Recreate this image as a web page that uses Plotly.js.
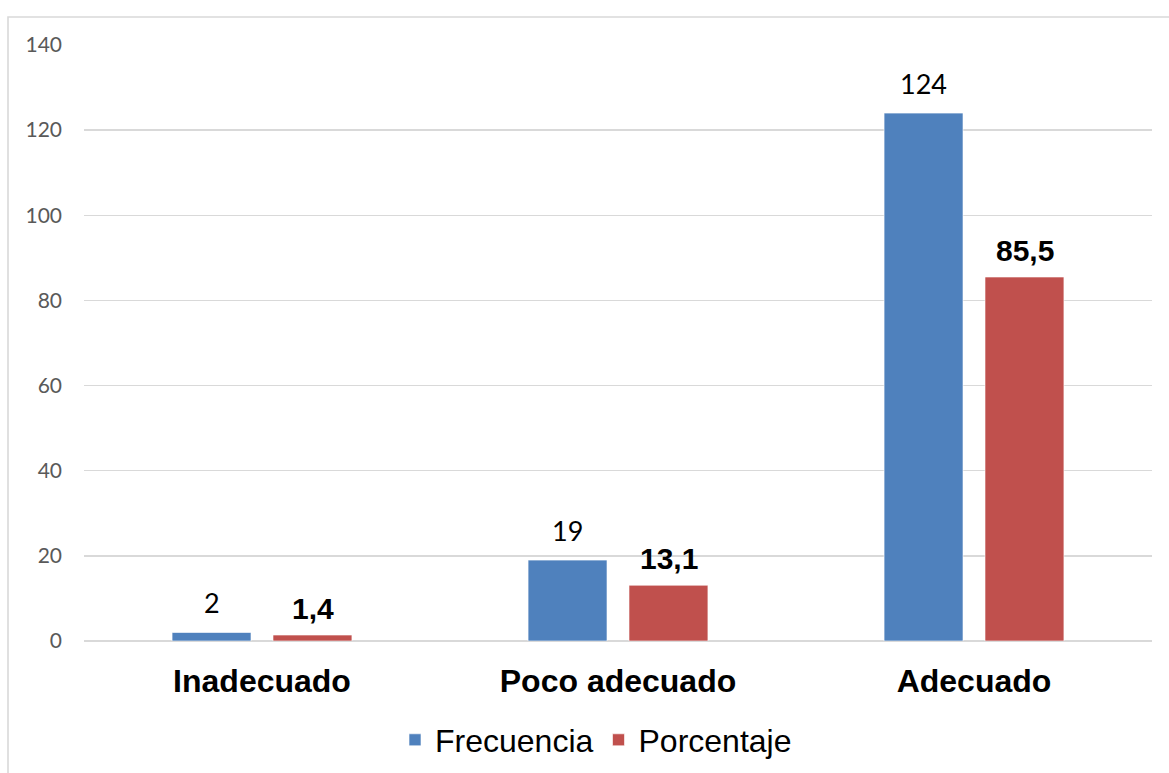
<!DOCTYPE html>
<html>
<head>
<meta charset="utf-8">
<script src="https://cdn.plot.ly/plotly-3.0.1.min.js"></script>
<style>
html,body{margin:0;padding:0;background:#fff;overflow:hidden;}
#chart{width:1169px;height:773px;}
</style>
</head>
<body>
<div id="chart"></div>
<script>
// ---- data ----
const categories = ["Inadecuado", "Poco adecuado", "Adecuado"];
const frecuencia = [2, 19, 124];
const porcentaje = [1.4, 13.1, 85.5];
const seriesNames = ["Frecuencia", "Porcentaje"];
const yTicks = [0, 20, 40, 60, 80, 100, 120, 140];

const fmt = v => String(v).replace('.', ',');

const blue = "#4F81BD";
const red = "#C0504D";

const traces = [
  {
    type: "bar", name: seriesNames[0], x: categories, y: frecuencia,
    marker: {color: blue, line: {color: "rgba(255,255,255,0.6)", width: 1}},
    hoverinfo: "none"
  },
  {
    type: "bar", name: seriesNames[1], x: categories, y: porcentaje,
    marker: {color: red, line: {color: "rgba(255,255,255,0.6)", width: 1}},
    hoverinfo: "none"
  }
];

const annotations = [];
categories.forEach((c, i) => {
  annotations.push({
    x: c, y: frecuencia[i], xref: "x", yref: "y", text: fmt(frecuencia[i]),
    showarrow: false, xanchor: "center", yanchor: "bottom", xshift: -50.5, yshift: 11,
    font: {family: "Lato, 'Open Sans', sans-serif", size: 27, color: "#000"}
  });
  annotations.push({
    x: c, y: porcentaje[i], xref: "x", yref: "y", text: "<b>" + fmt(porcentaje[i]) + "</b>",
    showarrow: false, xanchor: "center", yanchor: "bottom", xshift: 50.5, yshift: 8,
    font: {family: "'Liberation Sans', Arial, sans-serif", size: 30, color: "#000"}
  });
});

const L = 84, R = 17, T = 45, B = 132;
const W = 1169, H = 773;
const pw = W - L - R, ph = H - T - B;
const px = x => (x - L) / pw;
const py = y => (H - B - y) / ph;

const layout = {
  width: W, height: H,
  margin: {l: L, r: R, t: T, b: B, autoexpand: false},
  paper_bgcolor: "#fff", plot_bgcolor: "#fff",
  barmode: "group", bargap: 0.433, bargroupgap: 0.218,
  showlegend: true,
  legend: {
    orientation: "h", x: px(596), xanchor: "center", y: py(740), yanchor: "middle",
    font: {family: "'Liberation Sans', Arial, sans-serif", size: 32, color: "#000"},
    traceorder: "normal"
  },
  xaxis: {
    type: "category", showgrid: false, showline: false, zeroline: false, automargin: false,
    ticks: "", ticklabelstandoff: 18,
    tickfont: {family: "'Liberation Sans', Arial, sans-serif", size: 32, color: "#000", weight: "bold"}
  },
  yaxis: {
    range: [0, 140], tickvals: yTicks, ticktext: yTicks.map(String), automargin: false,
    showgrid: true, gridcolor: "#d9d9d9", gridwidth: 1.3,
    zeroline: true, zerolinecolor: "#d9d9d9", zerolinewidth: 1.3,
    showline: false, ticks: "", ticklabelstandoff: 21,
    tickfont: {family: "Lato, 'Open Sans', sans-serif", size: 21, color: "#595959"}
  },
  annotations: annotations,
  shapes: [{
    type: "rect", xref: "paper", yref: "paper",
    x0: px(8), x1: px(1180), y0: py(790), y1: py(17),
    line: {color: "#d9d9d9", width: 1.6}, fillcolor: "rgba(0,0,0,0)", layer: "below"
  }]
};

Plotly.newPlot("chart", traces, layout, {displayModeBar: false, staticPlot: true});
</script>
</body>
</html>
